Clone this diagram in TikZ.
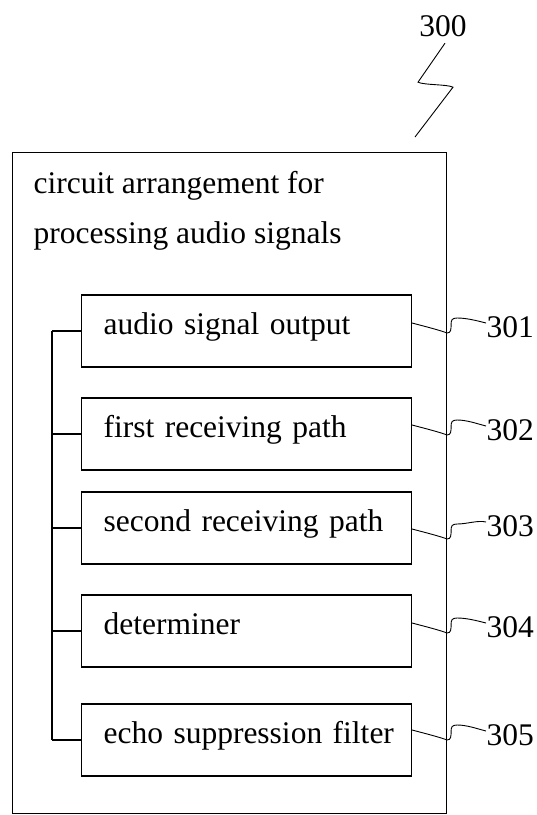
\documentclass[tikz,border=0pt]{standalone}
\usepackage{fontspec}
\setmainfont{Liberation Serif}
\usetikzlibrary{positioning}

\begin{document}
\begin{tikzpicture}[x=1pt,y=-1pt,line width=1.1pt,
		font=\fontsize{31.5}{50}\selectfont,
		block/.style={draw,anchor=west,text width=286pt,inner xsep=22pt,
			minimum height=72pt,align=left,text height=12pt,text depth=6pt},
		refnum/.style={anchor=west,inner sep=0pt},
		leader/.style={line width=0.9pt}]
	\useasboundingbox (0,0) rectangle (537,815);
	\node[draw,line width=1pt,anchor=north west,inner sep=0pt,
		minimum width=434pt,minimum height=661pt] (outer) at (12,152) {};
	\node[anchor=base west,align=left,inner sep=0pt] (title) at (33,243)
		{circuit arrangement for\\processing audio signals};
	% blocks, reference numbers and their leaders
	\foreach \n/\c/\s/\l/\t in {301/331/8/4/audio signal output,
			302/434/9/4/first receiving path,
			303/528/-1/2/second receiving path,
			304/631/8/4/determiner,
			305/740/10/5/echo suppression filter}
	{
		\node[block] (b\n) at (81,\c) {\mbox{\t}};
		\node[refnum] (r\n) at (486,\c-\l) {\n};
		\draw (b\n.west) -- +(-29,0);
		\draw[leader] ([yshift=\s pt]b\n.east) .. controls +(15,4) and +(-8,-3) .. ++(35,10)
			.. controls +(4,0) and +(0,5) .. ++(4,-9)
			.. controls +(0,-4) and +(-5,0) .. ++(6,-6)
			.. controls +(10,0) and +(-8,-2) .. ([yshift=4pt]r\n.west);
	}
	\draw ([xshift=-29pt]b301.west) -- ([xshift=-29pt]b305.west);
	% figure number
	\node[inner sep=0pt] (n300) at (443,26) {300};
	\coordinate (sqend) at (415,137);
	\draw[leader] ([xshift=2pt,yshift=-6pt]n300.south) -- ++(-27,39)
		.. controls +(6,3) and +(-6,-3) .. ++(35,5) -- (sqend);
\end{tikzpicture}
\end{document}
